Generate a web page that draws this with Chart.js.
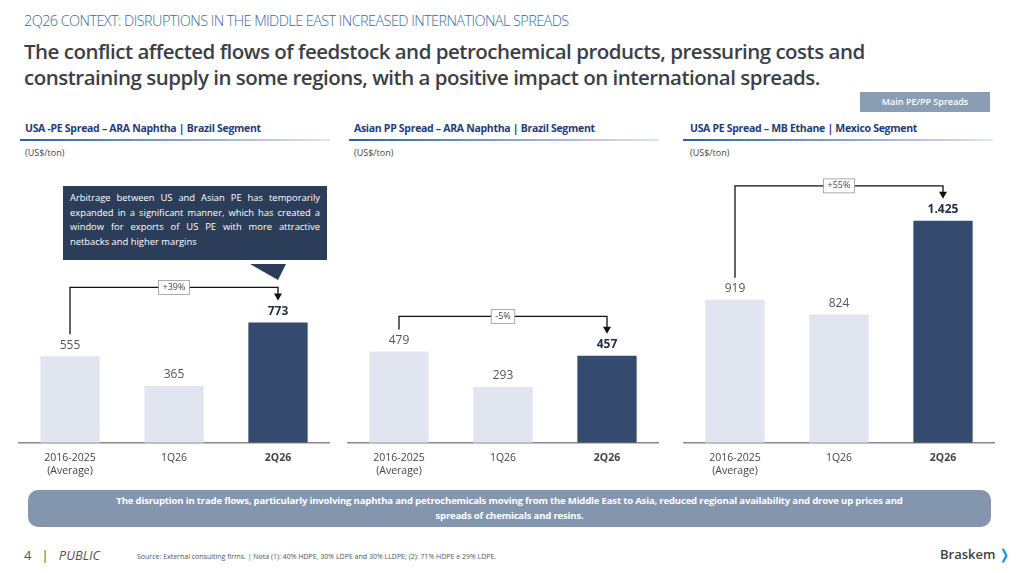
<!DOCTYPE html>
<html><head><meta charset="utf-8">
<script src="https://cdn.jsdelivr.net/npm/chart.js@4"></script>
<style>
body{margin:0;width:1019px;height:573px;background:#fff;font-family:"Open Sans",sans-serif;position:relative;overflow:hidden}
.abs{position:absolute}
.kicker{left:24px;top:11px;font-size:14.5px;color:#3f6a9e;letter-spacing:-0.6px;font-weight:300}
.title{left:24px;top:38px;font-size:20.5px;font-weight:600;color:#3c3f45;line-height:26px;letter-spacing:-0.5px}
.tag{left:860px;top:92px;width:130px;height:20px;background:#8a9db3;color:#fff;font-size:9px;font-weight:600;text-align:center;line-height:20px}
.ctitle{font-size:10.5px;font-weight:700;color:#1f3c78;letter-spacing:-0.3px}
.hl{height:2px;background:linear-gradient(90deg,#2f5ea0,#dfe6f0)}
.unit{font-size:9px;color:#444}
.callout{left:63px;top:186px;width:250px;height:64px;background:#2c3d5a;color:#fff;font-size:9.4px;line-height:14.5px;padding:5px 7px;text-align:justify}
.tri{left:250px;top:264px;width:0;height:0;border-left:28px solid transparent;border-right:8px solid transparent;border-top:16px solid #2c3d5a}
.banner{left:28px;top:490px;width:943px;height:34px;border-radius:10px;background:#8396ad;color:#fff;font-size:9.6px;font-weight:700;text-align:center;line-height:15px;padding:3px 10px 0 10px;letter-spacing:-0.2px}
canvas{position:absolute}
</style></head><body>
<div class="abs kicker">2Q26 CONTEXT: DISRUPTIONS IN THE MIDDLE EAST INCREASED INTERNATIONAL SPREADS</div>
<div class="abs title">The conflict affected flows of feedstock and petrochemical products, pressuring costs and<br>constraining supply in some regions, with a positive impact on international spreads.</div>
<div class="abs tag">Main PE/PP Spreads</div>

<div class="abs ctitle" style="left:25px;top:121px">USA -PE Spread – ARA Naphtha | Brazil Segment</div>
<div class="abs ctitle" style="left:354px;top:121px">Asian PP Spread – ARA Naphtha | Brazil Segment</div>
<div class="abs ctitle" style="left:690px;top:121px">USA PE Spread – MB Ethane | Mexico Segment</div>
<div class="abs hl" style="left:20px;top:139px;width:310px"></div>
<div class="abs hl" style="left:349px;top:139px;width:310px"></div>
<div class="abs hl" style="left:683px;top:139px;width:310px"></div>
<div class="abs unit" style="left:25px;top:146px">(US$/ton)</div>
<div class="abs unit" style="left:354px;top:146px">(US$/ton)</div>
<div class="abs unit" style="left:690px;top:146px">(US$/ton)</div>

<canvas id="c1" style="left:18px;top:150px" width="312" height="328"></canvas>
<canvas id="c2" style="left:347px;top:150px" width="312" height="328"></canvas>
<canvas id="c3" style="left:683px;top:150px" width="312" height="328"></canvas>

<div class="abs callout">Arbitrage between US and Asian PE has temporarily expanded in a significant manner, which has created a window for exports of US PE with more attractive netbacks and higher margins</div>
<div class="abs tri"></div>

<div class="abs banner">The disruption in trade flows, particularly involving naphtha and petrochemicals moving from the Middle East to Asia, reduced regional availability and drove up prices and<br>spreads of chemicals and resins.</div>
<div class="abs" style="left:24px;top:546px;font-size:13px;color:#555">4 &nbsp;&nbsp;| &nbsp;&nbsp;<i>PUBLIC</i></div>
<div class="abs" style="left:137px;top:552px;font-size:7px;color:#555">Source: External consulting firms. | Nota (1): 40% HDPE, 30% LDPE and 30% LLDPE; (2): 71% HDPE e 29% LDPE.</div>
<div class="abs" style="left:940px;top:545px;font-size:13px;color:#3c3f45;font-weight:600">Braskem<span style="color:#1b8fd8;font-weight:700"> ❭</span></div>

<script>
const labels = [['2016-2025','(Average)'], '1Q26', '2Q26'];
const charts = [
    {id: 'c1', data: [555, 365, 773], max: 1880, pct: '+39%', fmt: v => v},
    {id: 'c2', data: [479, 293, 457], max: 1535, pct: '-5%', fmt: v => v},
    {id: 'c3', data: [919, 824, 1425], max: 1880, pct: '+55%', fmt: v => v >= 1000 ? v.toLocaleString('de-DE') : v},
];
const light = '#e1e5f0';
const dark = '#344a6e';

// value labels + bracket with % change
const bracketPlugin = {
    id: 'bracket',
    afterDatasetsDraw(chart, args, opts) {
        const ctx = chart.ctx;
        const meta = chart.getDatasetMeta(0);
        const d = chart.data.datasets[0].data;
        ctx.save();
        ctx.textAlign = 'center';
        ctx.textBaseline = 'bottom';
        meta.data.forEach((bar, i) => {
            ctx.font = (i == 2 ? 'bold ' : '') + '12px "Open Sans"';
            ctx.fillStyle = i == 2 ? '#1f2d45' : '#555';
            ctx.fillText(opts.fmt(d[i]), bar.x, bar.y - 5);
        });
        const b0 = meta.data[0], b2 = meta.data[2];
        const top = Math.min(b0.y, b2.y) - 35;
        ctx.strokeStyle = '#111';
        ctx.lineWidth = 1.3;
        ctx.beginPath();
        ctx.moveTo(b0.x, b0.y - 22);
        ctx.lineTo(b0.x, top);
        ctx.lineTo(b2.x, top);
        ctx.lineTo(b2.x, b2.y - 27);
        ctx.stroke();
        ctx.fillStyle = '#111';
        ctx.beginPath();
        ctx.moveTo(b2.x - 4, b2.y - 29);
        ctx.lineTo(b2.x + 4, b2.y - 29);
        ctx.lineTo(b2.x, b2.y - 22);
        ctx.fill();
        const mx = meta.data[1].x;
        ctx.font = '9px "Open Sans"';
        const w = ctx.measureText(opts.pct).width + 8;
        ctx.fillStyle = '#fff';
        ctx.fillRect(mx - w / 2, top - 7, w, 14);
        ctx.strokeStyle = '#999';
        ctx.lineWidth = 0.8;
        ctx.strokeRect(mx - w / 2, top - 7, w, 14);
        ctx.fillStyle = '#444';
        ctx.textBaseline = 'middle';
        ctx.fillText(opts.pct, mx, top);
        ctx.restore();
    }
};

charts.forEach(c => {
    new Chart(document.getElementById(c.id), {
        type: 'bar',
        plugins: [bracketPlugin],
        data: {
            labels: labels,
            datasets: [{
                data: c.data,
                backgroundColor: [light, light, dark],
                barPercentage: 0.57,
                categoryPercentage: 1
            }]
        },
        options: {
            responsive: false,
            animation: false,
            layout: {padding: {left: 0, right: 0, top: 0, bottom: 0}},
            plugins: {
                legend: {display: false},
                tooltip: {enabled: false},
                bracket: {pct: c.pct, fmt: c.fmt}
            },
            scales: {
                y: {display: false, min: 0, max: c.max},
                x: {
                    grid: {display: false},
                    border: {color: '#888', width: 1.5},
                    ticks: {
                        color: '#444',
                        font: ctx => ({family: 'Open Sans', size: 10.5, weight: ctx.index == 2 ? 'bold' : 'normal'}),
                        padding: 1
                    }
                }
            }
        }
    });
});
</script>
</body></html>
